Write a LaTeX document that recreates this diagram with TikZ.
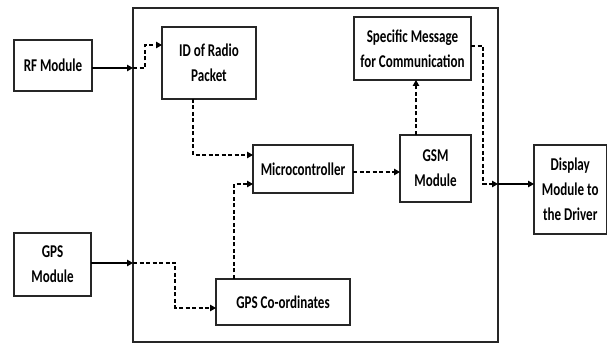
\documentclass[tikz,border=0pt]{standalone}
\usepackage{fontspec}
\setmainfont{Carlito}[FakeStretch=0.725]
\usetikzlibrary{arrows.meta,calc}
\begin{document}
\begin{tikzpicture}[x=1pt,y=-1pt,
  box/.style={draw=black!85, line width=1.1pt, inner sep=0pt, outer sep=0pt, align=center,
    font=\fontsize{18}{25}\selectfont\bfseries},
  solidarr/.style={line width=1.2pt, -{Triangle[length=6pt,width=6.5pt]}},
  dasharr/.style={line width=1.1pt, dash pattern=on 4pt off 2.5pt, -{Triangle[length=6pt,width=6.5pt]}},
  dashline/.style={line width=1.1pt, dash pattern=on 4pt off 2.5pt}]
\useasboundingbox (0,0) rectangle (608,344);
% outer frame
\node[box, minimum width=365pt, minimum height=334pt] (outer) at (315.5,175) {};
% boxes
\node[box, minimum width=78pt, minimum height=51pt] (rf) at (53,65.5) {RF Module};
\node[box, minimum width=94pt, minimum height=72pt] (id) at (209,63) {ID of Radio\\Packet};
\node[box, minimum width=100pt, minimum height=48pt] (mc) at (303,169) {Microcontroller};
\node[box, minimum width=71pt, minimum height=67pt] (gsm) at (435.5,168.5) {GSM\\Module};
\node[box, minimum width=117pt, minimum height=63pt] (spec) at (412.5,48.5) {Specific Message\\for Communication};
\node[box, minimum width=72.5pt, minimum height=89pt] (disp) at (570.25,189.5) {Display\\Module to\\the Driver};
\node[box, minimum width=77pt, minimum height=63pt] (gps) at (52.5,264.5) {GPS\\Module};
\node[box, minimum width=134pt, minimum height=46pt] (gpsc) at (283,302) {GPS Co-ordinates};
% coordinates
\coordinate (rfin) at (133,68);
\coordinate (gpsin) at (133,263);
\coordinate (dispin) at (498,184);
% RF path
\draw[solidarr] ($(rf.east)+(0,2.5)$) -- (rfin);
\draw[dasharr] (rfin) -- (145,68) -- (145,45) -- (id.west |- 0,45);
% ID -> MC
\draw[dasharr] (id.south -| 193,0) -- (193,155) -- (mc.west |- 0,155);
% GPS path
\draw[solidarr] ($(gps.east)+(0,-1.5)$) -- (gpsin);
\draw[dasharr] (gpsin) -- (175,263) -- (175,308) -- (gpsc.west |- 0,308);
% GPSC -> MC
\draw[dasharr] (gpsc.north -| 234,0) -- (234,184) -- (mc.west |- 0,184);
% MC -> GSM
\draw[dasharr] (mc.east |- 0,172) -- (gsm.west |- 0,172);
% GSM -> Spec
\draw[dasharr] (gsm.north -| 416,0) -- (spec.south -| 416,0);
% Spec -> Display
\draw[dasharr] (spec.east |- 0,46) -- (483,46) -- (483,184) -- (dispin);
\draw[solidarr] (dispin) -- (disp.west |- dispin);
\end{tikzpicture}
\end{document}
